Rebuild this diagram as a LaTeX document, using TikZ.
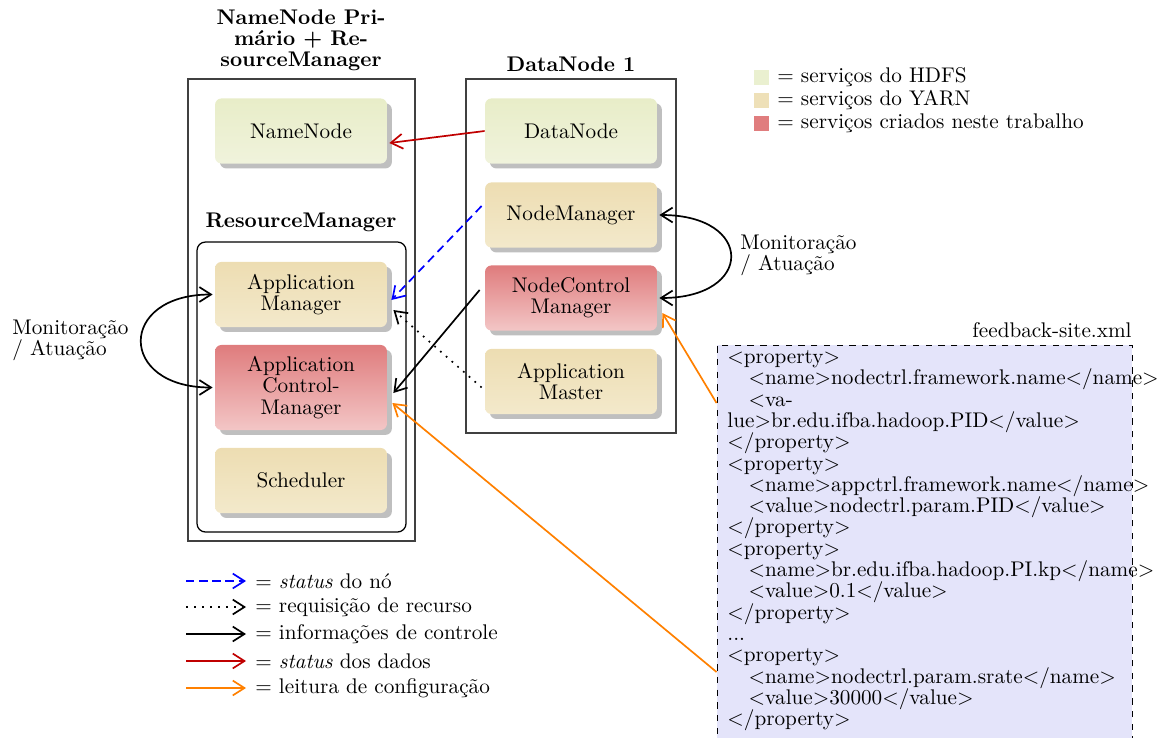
\documentclass[tikz,border=0pt]{standalone}
\usepackage{fontspec}
\usetikzlibrary{arrows.meta,shadows,calc}
\definecolor{hdfsT}{RGB}{232,237,200}
\definecolor{hdfsB}{RGB}{240,243,220}
\definecolor{yarnT}{RGB}{237,221,178}
\definecolor{yarnB}{RGB}{243,233,203}
\definecolor{newT}{RGB}{223,124,125}
\definecolor{newB}{RGB}{243,198,198}
\definecolor{hdfsL}{RGB}{234,240,208}
\definecolor{yarnL}{RGB}{238,224,184}
\definecolor{newL}{RGB}{224,125,126}
\definecolor{lav}{RGB}{228,228,250}
\definecolor{darkred}{RGB}{192,0,0}
\definecolor{orng}{RGB}{255,128,0}
\newcommand{\xlt}{$<$}
\newcommand{\xgt}{$>$}
\newcommand{\ind}{\hspace*{1em}}
\tikzset{
  svc/.style={rounded corners=3pt, minimum width=81.1pt, minimum height=30.7pt,
    align=center, inner sep=1pt,
    general shadow={fill=black!25, shadow xshift=2.3pt, shadow yshift=-2.3pt}},
  hdfs/.style={svc, top color=hdfsT, bottom color=hdfsB},
  yarn/.style={svc, top color=yarnT, bottom color=yarnB},
  newsvc/.style={svc, top color=newT, bottom color=newB},
  hostbox/.style={draw=black!75, line width=0.6pt},
  tip/.style={-{Straight Barb[length=5.5pt,width=7pt]}},
  arr/.style={thick, tip},
  bluearr/.style={arr, blue, dash pattern=on 4pt off 2.5pt},
  dotarr/.style={arr, dash pattern=on 0.8pt off 2.8pt},
  ctrlarr/.style={arr, black},
  redarr/.style={arr, darkred},
  orarr/.style={arr, orng},
  lbl/.style={inner sep=0pt},
  title/.style={inner sep=0pt, font=\fontsize{10}{10}\selectfont\bfseries, align=center},
  sq/.style={minimum size=7.1pt, inner sep=0pt},
}
\begin{document}
\begin{tikzpicture}[x=0.4717pt, y=-0.4717pt, font=\fontsize{10}{10}\selectfont]
\useasboundingbox (0,0) rectangle (1160,737);
\clip (0,0) rectangle (1160,737);

% host boxes
\node[title] (t1) at (301,40) {NameNode Pri-\\mário + Re-\\sourceManager};
\draw[hostbox] (188,79) rectangle (415,541);
\node[title] (t2) at (571,64) {DataNode 1};
\draw[hostbox] (466,79) rectangle (676,433);
\node[title] (t3) at (301,222) {ResourceManager};
\draw[line width=0.6pt, rounded corners=4pt] (197,242) rectangle (406,532);

% services
\node[hdfs] (nn) at (301,131) {NameNode};
\node[yarn] (am) at (301,294.5) {Application\\Manager};
\node[newsvc, minimum height=40.1pt] (acm) at (301,387.5) {Application\\Control-\\Manager};
\node[yarn] (sch) at (301,480.5) {Scheduler};

\node[hdfs] (dn) at (571,131) {DataNode};
\node[yarn] (nm) at (571,215) {NodeManager};
\node[newsvc] (ncm) at (571,298) {NodeControl\\Manager};
\node[yarn] (amst) at (571,381.5) {Application\\Master};

% xml box
\node[draw, dashed, fill=lav, minimum width=195.8pt, minimum height=195.8pt, inner sep=0pt] (xml) at (924.5,552.5) {};
\node[lbl, anchor=east] (xmlt) at (1132,330) {feedback-site.xml};
\node[lbl, anchor=north west, align=left, font=\fontsize{10}{10.05}\selectfont] (xmltext) at (727,350) {%
\xlt property\xgt\\
\ind\xlt name\xgt nodectrl.framework.name\xlt/name\xgt\\
\ind\xlt va-\\
lue\xgt br.edu.ifba.hadoop.PID\xlt/value\xgt\\
\xlt/property\xgt\\
\xlt property\xgt\\
\ind\xlt name\xgt appctrl.framework.name\xlt/name\xgt\\
\ind\xlt value\xgt nodectrl.param.PID\xlt/value\xgt\\
\xlt/property\xgt\\
\xlt property\xgt\\
\ind\xlt name\xgt br.edu.ifba.hadoop.PI.kp\xlt/name\xgt\\
\ind\xlt value\xgt 0.1\xlt/value\xgt\\
\xlt/property\xgt\\
...\\
\xlt property\xgt\\
\ind\xlt name\xgt nodectrl.param.srate\xlt/name\xgt\\
\ind\xlt value\xgt 30000\xlt/value\xgt\\
\xlt/property\xgt};

% connectors
\draw[redarr] (dn.west) -- ($(nn.east)+(2,12)$);
\draw[bluearr] ($(nm.west)+(-3,-9)$) -- ($(am.east)+(4,5.5)$);
\draw[dotarr] ($(amst.west)+(-3,6)$) -- ($(am.east)+(6,15.5)$);
\draw[ctrlarr] ($(ncm.west)+(-5,-8)$) -- ($(acm.east)+(6,5.5)$);
\draw[orarr] ($(xml.west)+(0,-149.5)$) -- ($(ncm.east)+(5,15)$);
\draw[orarr] ($(xml.west)+(0,119.5)$) -- ($(acm.east)+(5,15.5)$);

\draw[thick, {Straight Barb[length=5.5pt,width=7pt]}-{Straight Barb[length=5.5pt,width=7pt]}]
  ($(nm.east)+(2,0)$) .. controls ($(nm.east)+(97,0)$) and ($(ncm.east)+(97,0)$) .. ($(ncm.east)+(2,0)$);
\node[lbl, anchor=west, align=left] (monr) at (740,255.5) {Monitoração\\/ Atuação};

\draw[thick, {Straight Barb[length=5.5pt,width=7pt]}-{Straight Barb[length=5.5pt,width=7pt]}]
  ($(am.west)+(-2,0)$) .. controls ($(am.west)+(-97,0)$) and ($(acm.west)+(-97,0)$) .. ($(acm.west)+(-2,0)$);
\node[lbl, anchor=west, align=left] (monl) at (12,340.5) {Monitoração\\/ Atuação};

% legend: colours
\node[sq, fill=hdfsL] (s1) at (761.5,77.5) {};
\node[lbl, anchor=west] (s1t) at (777,77.5) {= serviços do HDFS};
\node[sq, fill=yarnL] (s2) at (761.5,100.5) {};
\node[lbl, anchor=west] (s2t) at (777,100.5) {= serviços do YARN};
\node[sq, fill=newL] (s3) at (761.5,123.5) {};
\node[lbl, anchor=west] (s3t) at (777,123.5) {= serviços criados neste trabalho};

% legend: arrows
\coordinate (a1) at (186,581); \coordinate (b1) at (246,581);
\draw[arr, blue, dash pattern=on 4pt off 2.2pt] (a1) -- (b1);
\node[lbl, anchor=west] (c1) at (255,581) {= \textit{status} do nó};
\coordinate (a2) at (186,607); \coordinate (b2) at (246,607);
\draw[arr, dash pattern=on 0.8pt off 3pt] (a2) -- (b2);
\node[lbl, anchor=west] (c2) at (255,607) {= requisição de recurso};
\coordinate (a3) at (186,634); \coordinate (b3) at (246,634);
\draw[ctrlarr] (a3) -- (b3);
\node[lbl, anchor=west] (c3) at (255,634) {= informações de controle};
\coordinate (a4) at (186,661); \coordinate (b4) at (246,661);
\draw[redarr] (a4) -- (b4);
\node[lbl, anchor=west] (c4) at (255,661) {= \textit{status} dos dados};
\coordinate (a5) at (186,688); \coordinate (b5) at (246,688);
\draw[orarr] (a5) -- (b5);
\node[lbl, anchor=west] (c5) at (255,688) {= leitura de configuração};
\end{tikzpicture}
\end{document}
